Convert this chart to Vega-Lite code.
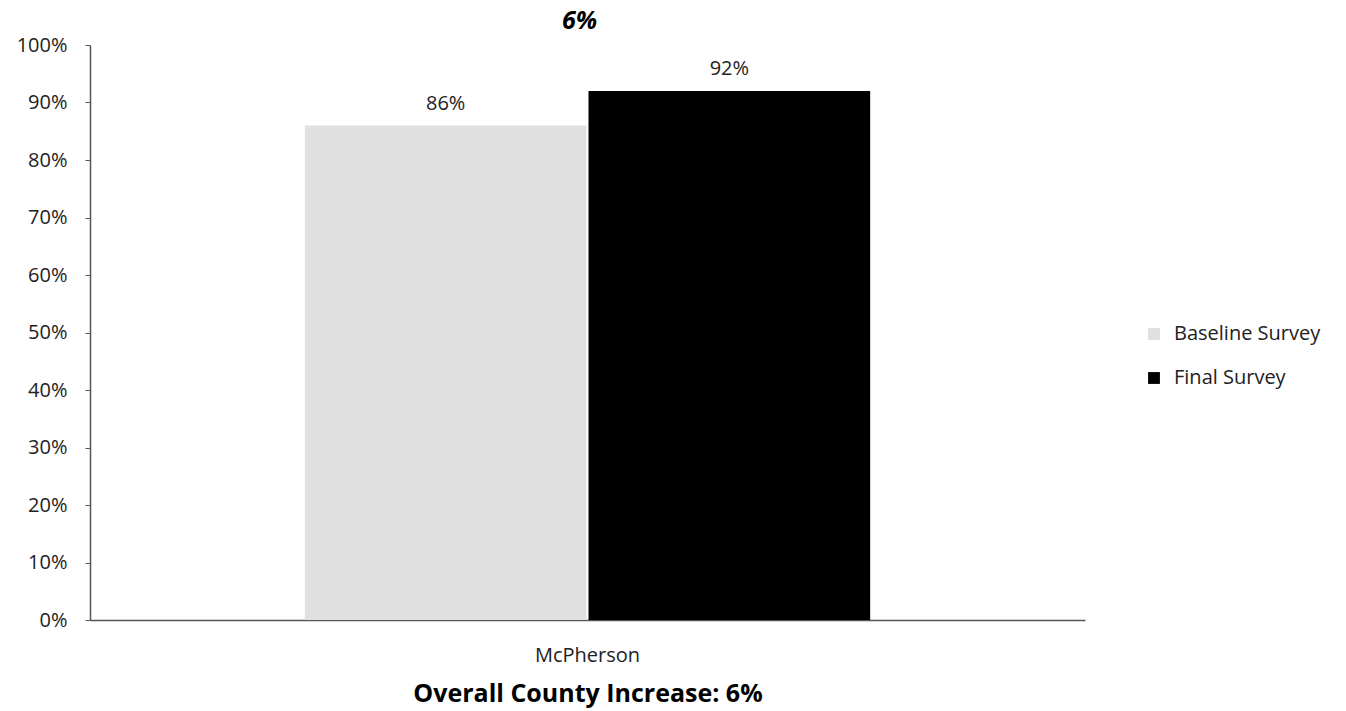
{
  "$schema": "https://vega.github.io/schema/vega-lite/v6.json",
  "autosize": {"type": "none"},
  "padding": {"left": 90, "top": 45, "right": 261, "bottom": 91},
  "width": 995,
  "height": 575,
  "background": "white",
  "config": {
    "view": {"stroke": null},
    "font": "Open Sans"
  },
  "title": {
    "text": "6%",
    "fontStyle": "italic",
    "fontWeight": "bold",
    "fontSize": 25,
    "font": "Open Sans",
    "color": "black",
    "anchor": "middle",
    "dx": -8,
    "offset": 1
  },
  "data": {
    "values": [
      {"county": "McPherson", "survey": "Baseline Survey", "value": 0.86, "label": "86%"},
      {"county": "McPherson", "survey": "Final Survey", "value": 0.92, "label": "92%"}
    ]
  },
  "encoding": {
    "x": {
      "field": "county",
      "type": "nominal",
      "scale": {"paddingInner": 0, "paddingOuter": 0.38},
      "axis": {
        "title": "Overall County Increase: 6%",
        "titleFont": "Open Sans",
        "titleFontSize": 25,
        "titleFontWeight": "bold",
        "titleColor": "black",
        "titlePadding": 16,
        "labelAngle": 0,
        "labelFontSize": 20,
        "labelColor": "#222",
        "labelPadding": 25,
        "ticks": false,
        "domainColor": "#555",
        "domainWidth": 1.5
      }
    },
    "xOffset": {"field": "survey", "type": "nominal", "scale": {"paddingInner": 0.007}},
    "y": {
      "field": "value",
      "type": "quantitative",
      "scale": {"domain": [0, 1]},
      "axis": {
        "format": ".0%",
        "values": [0, 0.1, 0.2, 0.3, 0.4, 0.5, 0.6, 0.7, 0.8, 0.9, 1],
        "labelOverlap": false,
        "grid": false,
        "title": null,
        "labelFontSize": 20,
        "labelColor": "#222",
        "labelPadding": 18,
        "tickSize": 5,
        "tickColor": "#555",
        "domainColor": "#555",
        "domainWidth": 1.5
      }
    }
  },
  "layer": [
    {
      "mark": {"type": "bar"},
      "encoding": {
        "color": {
          "field": "survey",
          "type": "nominal",
          "scale": {"domain": ["Baseline Survey", "Final Survey"], "range": ["#e0e0e0", "#000000"]},
          "legend": {
            "title": null,
            "orient": "none",
            "legendX": 1054,
            "legendY": 279,
            "symbolType": "square",
            "symbolSize": 140,
            "labelFontSize": 20,
            "labelColor": "#222",
            "labelOffset": 10,
            "rowPadding": 24
          }
        }
      }
    },
    {
      "mark": {"type": "text", "baseline": "bottom", "dy": -12, "fontSize": 20, "color": "#222"},
      "encoding": {"text": {"field": "label"}}
    }
  ]
}
